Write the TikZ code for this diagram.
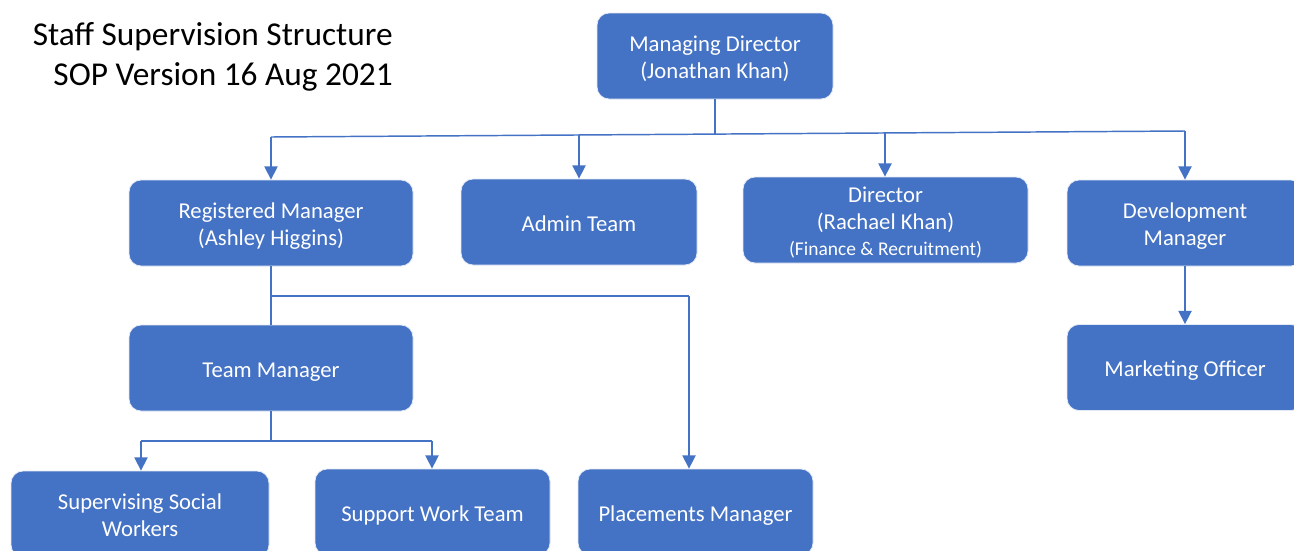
\documentclass[tikz,border=0pt]{standalone}
\usepackage{fontspec}
\setmainfont{Carlito}
\usetikzlibrary{arrows.meta}
\definecolor{officeblue}{HTML}{4472C4}
% box text, set a little below the geometric centre
\newcommand\boxlines[1]{\raisebox{-2.9pt}[\height][\depth]{\begin{tabular}{@{}c@{}}#1\end{tabular}}}
\tikzset{
  x=0.75pt, y=-0.75pt,
  orgbox/.style={rectangle, rounded corners=9pt, fill=officeblue, draw=white!85!officeblue,
    line width=0.6pt, text=white, inner sep=0pt,
    minimum width=#1*0.75pt, minimum height=64.5pt,
    font=\fontsize{17}{20}\selectfont},
  orgbox/.default=236,
  link/.style={draw=officeblue, line width=1.1pt},
  arr/.style={link, -{Triangle[width=10pt,length=10pt]}},
}
\begin{document}
\begin{tikzpicture}
\useasboundingbox (0,0) rectangle (1294,550);
\clip (0,0) rectangle (1294,550);
\fill[white] (0,0) rectangle (1294,550);

% title
\node[anchor=north east, align=right, inner sep=0pt,
      font=\fontsize{25}{30}\selectfont] (title) at (393,22)
  {Staff Supervision Structure\\SOP Version 16 Aug 2021};

% boxes
\node[orgbox] (md) at (715,56) {\boxlines{Managing Director\\(Jonathan Khan)}};
\node[orgbox=284] (rm) at (271,223) {\boxlines{Registered Manager\\(Ashley Higgins)}};
\node[orgbox] (admin) at (579,222) {\boxlines{Admin Team}};
\node[orgbox=285] (dir) at (885.5,220) {\boxlines{Director\\(Rachael Khan)\\{\fontsize{14.6}{20}\selectfont (Finance \& Recruitment)}}};
\node[orgbox] (dev) at (1185,223) {\boxlines{Development\\Manager}};
\node[orgbox] (mkt) at (1185,367.5) {\boxlines{Marketing Officer}};
\node[orgbox=284] (tm) at (271,368) {\boxlines{Team Manager}};
\node[orgbox=258] (ssw) at (140,514) {\boxlines{Supervising Social\\Workers}};
\node[orgbox=235] (swt) at (432.5,512) {\boxlines{Support Work Team}};
\node[orgbox=235] (pm) at (695.5,512) {\boxlines{Placements Manager}};

% top-level bus
\coordinate (mdj) at (715,134);
\coordinate (b1) at (271,137);
\coordinate (b2) at (579,135);
\coordinate (b3) at (885,133);
\coordinate (b4) at (1185,131);
\draw[link] (md.south) -- (mdj);
\draw[link] (b1) -- (b4);
\draw[arr] (b1) -- (rm.north);
\draw[arr] (b2) -- (b2 |- admin.north);
\draw[arr] (b3) -- (b3 |- dir.north);
\draw[arr] (b4) -- (dev.north);

% registered manager branch
\coordinate (rmj) at (271,296);
\coordinate (pmj) at (689,296);
\draw[link] (rm.south) -- (tm.north);
\draw[link] (rmj) -- (pmj);
\draw[arr] (pmj) -- (pmj |- pm.north);

% team manager branch
\coordinate (tmj) at (271,441);
\coordinate (sj1) at (141,441);
\coordinate (sj2) at (432,441);
\draw[link] (tm.south) -- (tmj);
\draw[link] (sj1) -- (sj2);
\draw[arr] (sj1) -- (sj1 |- ssw.north);
\draw[arr] (sj2) -- (sj2 |- swt.north);

% development branch
\draw[arr] (dev.south) -- (mkt.north);
\end{tikzpicture}
\end{document}
